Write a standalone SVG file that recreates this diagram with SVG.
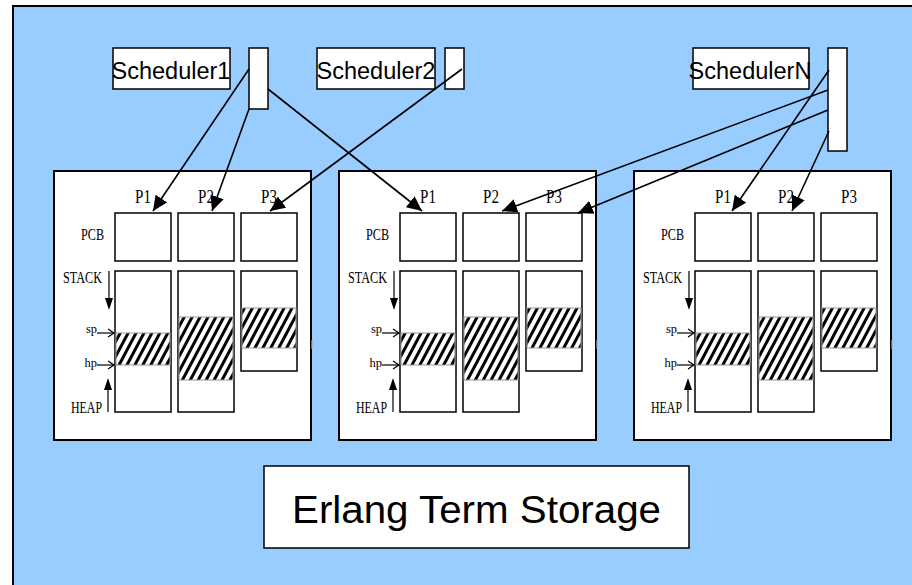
<svg xmlns="http://www.w3.org/2000/svg" xmlns:xlink="http://www.w3.org/1999/xlink" width="912" height="585" viewBox="0 0 912 585">
  <style>
    .box { fill: #ffffff; stroke: #000000; stroke-width: 1.5; }
    .panel { fill: #ffffff; stroke: #000000; stroke-width: 2; }
    .sched { font-family: "Liberation Sans", Arial, sans-serif; font-size: 23.5px; fill: #000; }
    .lbl { font-family: "Liberation Serif", "Times New Roman", serif; font-size: 15px; fill: #000; }
    .sm { font-family: "Liberation Serif", "Times New Roman", serif; font-size: 12.5px; fill: #000; }
    .conn { stroke: #000; stroke-width: 1.6; fill: none; marker-end: url(#head); }
    .ptr { stroke: #000; stroke-width: 1.2; fill: none; }
    .hatch { fill: url(#stripes); stroke: #999; stroke-width: 1; }
  </style>
  <defs>
    <marker id="head" markerUnits="userSpaceOnUse" markerWidth="16" markerHeight="14" refX="15" refY="7" orient="auto">
      <path d="M0,0 L15,7 L0,14 z" fill="#000"/>
    </marker>
    <pattern id="stripes" patternUnits="userSpaceOnUse" width="7" height="10" patternTransform="rotate(28)">
      <rect x="0" y="0" width="7" height="10" fill="#fff"/>
      <rect x="0" y="0" width="3" height="10" fill="#000"/>
    </pattern>
    <!-- one process area: PCBs, stacks/heaps with the used region hatched -->
    <g id="proc-panel">
      <rect class="panel" x="0" y="0" width="257" height="269"/>
      <text class="lbl" transform="translate(89,32) scale(1,1.25)" text-anchor="middle">P1</text>
      <text class="lbl" transform="translate(152,32) scale(1,1.25)" text-anchor="middle">P2</text>
      <text class="lbl" transform="translate(215,32) scale(1,1.25)" text-anchor="middle">P3</text>
      <rect class="box" x="61" y="42" width="56" height="48"/>
      <rect class="box" x="124" y="42" width="56" height="48"/>
      <rect class="box" x="187" y="42" width="56" height="48"/>
      <text class="lbl" transform="translate(50,69) scale(1,1.1)" text-anchor="end" textLength="23" lengthAdjust="spacingAndGlyphs">PCB</text>
      <text class="lbl" transform="translate(48,112) scale(1,1.1)" text-anchor="end" textLength="39" lengthAdjust="spacingAndGlyphs">STACK</text>
      <text class="lbl" transform="translate(48,242) scale(1,1.1)" text-anchor="end" textLength="31" lengthAdjust="spacingAndGlyphs">HEAP</text>
      <rect class="box" x="61" y="100" width="56" height="141"/>
      <rect class="box" x="124" y="100" width="56" height="141"/>
      <rect class="box" x="187" y="100" width="56" height="100"/>
      <rect class="hatch" x="62" y="162" width="54" height="32"/>
      <rect class="hatch" x="125" y="146" width="54" height="63"/>
      <rect class="hatch" x="188" y="137" width="54" height="40"/>
      <!-- stack grows down, heap grows up -->
      <line class="ptr" x1="55" y1="100" x2="55" y2="128"/>
      <path d="M51,127 L59,127 L55,139 z" fill="#000"/>
      <line class="ptr" x1="54" y1="241" x2="54" y2="218"/>
      <path d="M50,219 L58,219 L54,207 z" fill="#000"/>
      <text class="sm" x="43" y="162" text-anchor="end">sp</text>
      <text class="sm" x="43" y="196" text-anchor="end">hp</text>
      <line class="ptr" x1="43" y1="162" x2="60" y2="162"/>
      <path class="ptr" d="M54,158 L60,162 L54,166"/>
      <line class="ptr" x1="43" y1="194" x2="60" y2="194"/>
      <path class="ptr" d="M54,190 L60,194 L54,198"/>
      <line x1="258" y1="169" x2="258" y2="178" stroke="#aaa" stroke-width="1.2"/>
    </g>
  </defs>

  <!-- runtime system background -->
  <rect x="0" y="0" width="912" height="585" fill="#ffffff"/>
  <rect id="runtime" x="13" y="6" width="912" height="592" fill="#99ccff" stroke="#000" stroke-width="2"/>

  <g id="scheduler1">
    <rect class="box" x="113" y="48" width="117" height="41"/>
    <rect class="box" x="249" y="48" width="19" height="61"/>
    <text class="sched" x="171" y="79" text-anchor="middle">Scheduler1</text>
  </g>
  <g id="scheduler2">
    <rect class="box" x="317" y="48" width="118" height="41"/>
    <rect class="box" x="445" y="48" width="19" height="41"/>
    <text class="sched" x="376" y="79" text-anchor="middle">Scheduler2</text>
  </g>
  <g id="schedulerN">
    <rect class="box" x="693" y="48" width="116" height="41"/>
    <rect class="box" x="828" y="48" width="19" height="103"/>
    <text class="sched" x="750" y="79" text-anchor="middle">SchedulerN</text>
  </g>

  <g id="processes-a"><use xlink:href="#proc-panel" transform="translate(54,171)"/></g>
  <g id="processes-b"><use xlink:href="#proc-panel" transform="translate(339,171)"/></g>
  <g id="processes-c"><use xlink:href="#proc-panel" transform="translate(634,171)"/></g>

  <g id="ets">
    <rect class="box" x="264" y="466" width="425" height="82"/>
    <text transform="translate(476.5,523) scale(1,1.06)" text-anchor="middle" font-family="Liberation Sans, Arial, sans-serif" font-size="37" textLength="369" lengthAdjust="spacingAndGlyphs">Erlang Term Storage</text>
  </g>

  <g id="connectors">
    <line class="conn" x1="249" y1="69" x2="153" y2="211"/>
    <line class="conn" x1="249" y1="109" x2="212" y2="211"/>
    <line class="conn" x1="268" y1="89" x2="422" y2="211"/>
    <line class="conn" x1="462" y1="69" x2="270" y2="211"/>
    <line class="conn" x1="829" y1="70" x2="732" y2="211"/>
    <line class="conn" x1="828" y1="90" x2="502" y2="211"/>
    <line class="conn" x1="828" y1="110" x2="578" y2="213"/>
    <line class="conn" x1="829" y1="131" x2="792" y2="211"/>
  </g>
</svg>
